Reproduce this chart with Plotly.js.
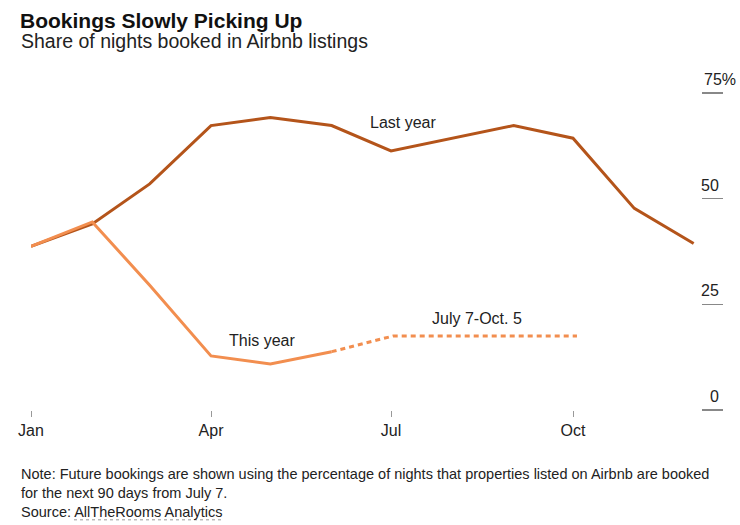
<!DOCTYPE html>
<html><head><meta charset="utf-8">
<script src="https://cdn.plot.ly/plotly-3.0.1.min.js"></script>
<style>html,body{margin:0;padding:0;background:#fff}#chart{width:740px;height:525px}</style>
</head><body><div id="chart"></div>
<script>
// ---- data ----
const months = ['2020-01-01','2020-02-01','2020-03-01','2020-04-01','2020-05-01','2020-06-01','2020-07-01','2020-08-01','2020-09-01','2020-10-01','2020-11-01','2020-12-01'];
const lastYear = [38.7, 44.0, 53.5, 67.3, 69.2, 67.3, 61.3, 64.3, 67.3, 64.3, 47.7, 39.4];
const thisYearDates = ['2020-01-01','2020-02-01','2020-03-01','2020-04-01','2020-05-01','2020-06-01'];
const thisYear = [38.7, 44.5, 29.5, 12.8, 10.9, 13.8];
const futureDates = ['2020-06-01','2020-07-02','2020-10-03'];
const futureBookings = [13.8, 17.5, 17.5];
const xTickVals = ['2020-01-01','2020-04-01','2020-07-01','2020-10-01'];
const xTickText = ['Jan','Apr','Jul','Oct'];
const yTickVals = [0, 25, 50, 75];
const yTickText = ['0', '25', '50', '75%'];
const noteLines = [
  'Note: Future bookings are shown using the percentage of nights that properties listed on Airbnb are booked',
  'for the next 90 days from July 7.',
  'Source: AllTheRooms Analytics'
];

// ---- layout helpers (pixel geometry) ----
const L = 31, R = 39, T = 92.5, B = 115;
const W = 740 - L - R, H = 525 - T - B;
const px = x => (x - L) / W;
const py = y => (525 - B - y) / H;
const FONT = 'Liberation Sans, Arial, sans-serif';
const dark = '#b4541a', light = '#f28e4f';

const traces = [
  {x: months, y: lastYear, type: 'scatter', mode: 'lines', line: {color: dark, width: 3}, hoverinfo: 'skip'},
  {x: thisYearDates, y: thisYear, type: 'scatter', mode: 'lines', line: {color: light, width: 3}, hoverinfo: 'skip'},
  {x: futureDates, y: futureBookings, type: 'scatter', mode: 'lines', line: {color: light, width: 3, dash: '5px,4px'}, hoverinfo: 'skip'}
];

const annotations = [
  {xref: 'paper', yref: 'paper', x: px(19), y: py(40), xanchor: 'left', yanchor: 'middle', showarrow: false,
   text: 'Share of nights booked in Airbnb listings', font: {family: FONT, size: 19.5, color: '#222'}},
  {xref: 'paper', yref: 'paper', x: px(403), y: py(122), xanchor: 'center', yanchor: 'middle', showarrow: false,
   text: 'Last year', font: {family: FONT, size: 16, color: '#222'}},
  {xref: 'paper', yref: 'paper', x: px(262), y: py(340), xanchor: 'center', yanchor: 'middle', showarrow: false,
   text: 'This year', font: {family: FONT, size: 16, color: '#222'}},
  {xref: 'paper', yref: 'paper', x: px(477), y: py(318), xanchor: 'center', yanchor: 'middle', showarrow: false,
   text: 'July 7-Oct. 5', font: {family: FONT, size: 16, color: '#222'}},
  {xref: 'paper', yref: 'paper', x: px(19), y: py(464), xanchor: 'left', yanchor: 'top', showarrow: false, align: 'left',
   text: noteLines.join('<br>'), font: {family: FONT, size: 14.5, color: '#222'}}
];
yTickVals.forEach((v, i) => {
  const isLast = i === yTickVals.length - 1;
  annotations.push({xref: 'paper', yref: 'y', x: isLast ? px(702) : px(721), y: v,
    xanchor: isLast ? 'left' : 'right', yanchor: 'bottom', yshift: 3, showarrow: false,
    text: yTickText[i], font: {family: FONT, size: 16, color: '#222'}});
});

const layout = {
  width: 740, height: 525,
  margin: {l: L, r: R, t: T, b: B, pad: 0},
  paper_bgcolor: '#fff', plot_bgcolor: '#fff',
  showlegend: false,
  font: {family: FONT, color: '#222'},
  title: {text: '<b>Bookings Slowly Picking Up</b>', x: 20 / 740, xanchor: 'left', xref: 'container',
          y: 1 - 28 / 525, yanchor: 'bottom', yref: 'container', font: {family: FONT, size: 21, color: '#111'}},
  xaxis: {type: 'date', range: ['2020-01-01', '2020-12-04 17:00'], tickvals: xTickVals, ticktext: xTickText,
          ticks: 'outside', ticklen: 6, tickwidth: 1, tickcolor: '#999', showgrid: false, zeroline: false,
          showline: false, fixedrange: true, tickfont: {family: FONT, size: 16, color: '#222'}},
  yaxis: {range: [0, 75], side: 'right', tickvals: yTickVals, showticklabels: false,
          ticks: 'outside', ticklen: 21, tickwidth: 1.5, tickcolor: '#888', showgrid: false, zeroline: false,
          showline: false, fixedrange: true},
  annotations: annotations,
  shapes: [
    {type: 'line', xref: 'paper', yref: 'paper', x0: px(74), x1: px(222), y0: py(520), y1: py(520),
     line: {color: '#999', width: 1, dash: 'dot'}}
  ]
};

Plotly.newPlot('chart', traces, layout, {displayModeBar: false, staticPlot: true});
</script>
</body></html>
